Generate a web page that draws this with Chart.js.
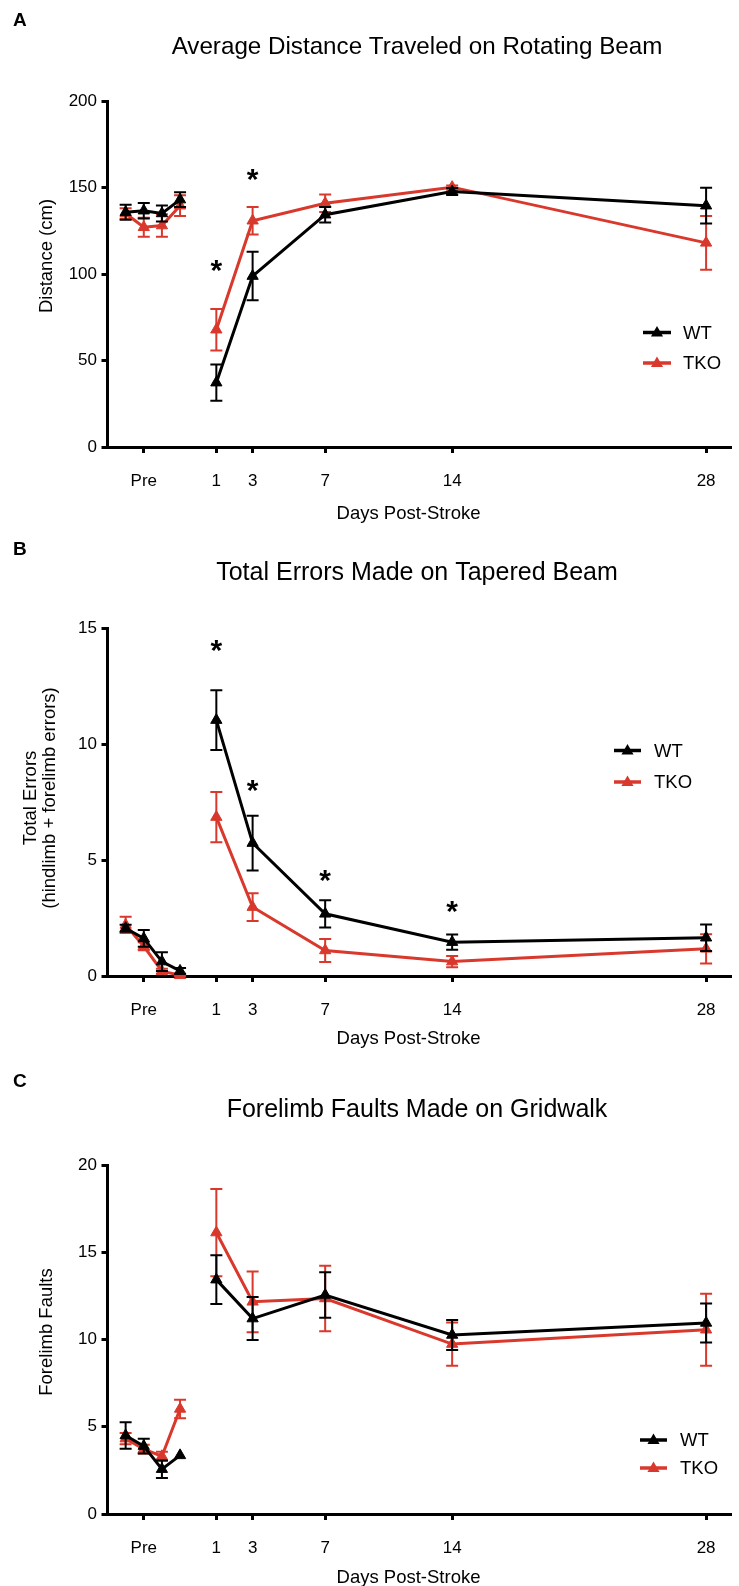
<!DOCTYPE html>
<html><head><meta charset="utf-8">
<script src="https://cdn.jsdelivr.net/npm/chart.js@4/dist/chart.umd.min.js"></script>
<style>
html,body{margin:0;padding:0;background:#fff;}
#wrap{position:relative;width:739px;height:1586px;overflow:hidden;}
canvas{position:absolute;left:0;display:block;}
</style></head><body>
<div id="wrap">
<canvas id="cA" width="739" height="530" style="top:0px"></canvas>
<canvas id="cB" width="739" height="520" style="top:530px"></canvas>
<canvas id="cC" width="739" height="536" style="top:1050px"></canvas>
</div>
<script>
// ---------- shared categories ----------
const xPositions = [-4, -3, -2, -1, 1, 3, 7, 14, 28];
const xTickValues = [-3, 1, 3, 7, 14, 28];
const xTickLabels = ['Pre', '1', '3', '7', '14', '28'];
const seriesNames = ['WT', 'TKO'];

// ---------- A: Average distance on rotating beam ----------
const distanceWT     = [135.7, 136.6, 135.0, 143.0, 37.2, 98.8, 134.3, 147.7, 139.5];
const distanceWTsem  = [4.4, 4.5, 4.6, 4.2, 10.5, 14.0, 4.5, 2.0, 10.3];
const distanceTKO    = [135.0, 127.0, 128.0, 139.5, 67.8, 130.8, 140.9, 150.2, 118.0];
const distanceTKOsem = [3.0, 5.5, 6.5, 6.0, 12.0, 8.0, 5.0, 1.0, 15.5];
const distanceStarDays = [1, 3];
const distanceStarLevel = [104.6, 157.0];
const distanceTicks = [0, 50, 100, 150, 200];

// ---------- B: Total errors on tapered beam ----------
const errorsWT     = [2.06, 1.62, 0.62, 0.22, 11.03, 5.73, 2.68, 1.46, 1.65];
const errorsWTsem  = [0.15, 0.36, 0.40, 0.12, 1.29, 1.18, 0.59, 0.33, 0.57];
const errorsTKO    = [2.20, 1.28, 0.21, 0.03, 6.85, 2.97, 1.10, 0.62, 1.17];
const errorsTKOsem = [0.35, 0.17, 0.10, 0.03, 1.08, 0.60, 0.50, 0.24, 0.63];
const errorsStarDays = [1, 3, 7, 14];
const errorsStarLevel = [14.23, 8.21, 4.30, 2.98];
const errorsTicks = [0, 5, 10, 15];

// ---------- C: Forelimb faults on gridwalk ----------
const faultsWT     = [4.50, 3.89, 2.57, 3.36, 13.43, 11.20, 12.55, 10.26, 10.95];
const faultsWTsem  = [0.76, 0.42, 0.50, 0, 1.40, 1.23, 1.30, 0.86, 1.12];
const faultsTKO    = [4.32, 3.72, 3.31, 6.02, 16.13, 12.16, 12.35, 9.74, 10.56];
const faultsTKOsem = [0.32, 0.25, 0.26, 0.53, 2.50, 1.74, 1.88, 1.24, 2.06];
const faultsStarDays = [];
const faultsStarLevel = [];
const faultsTicks = [0, 5, 10, 15, 20];

// ---------- styling ----------
const FONT = "'Liberation Sans', Arial, Helvetica, sans-serif";
const BLACK = '#000000';
const RED = '#D9382C';
const colors = [BLACK, RED];

function toPoints(vals, sems) {
  const pts = [];
  xPositions.forEach((x, i) => {
    if (i > 0 && xPositions[i - 1] < 0 && x > 0) pts.push({ x: 0, y: null, e: 0 }); // break between Pre and post-stroke
    pts.push({ x: x, y: vals[i], e: sems[i] });
  });
  return pts;
}

function tri(ctx, x, y, r, color) {
  ctx.beginPath();
  ctx.moveTo(x, y - r);
  ctx.lineTo(x + r * Math.cos(Math.PI / 6), y + r / 2);
  ctx.lineTo(x - r * Math.cos(Math.PI / 6), y + r / 2);
  ctx.closePath();
  ctx.fillStyle = color;
  ctx.fill();
}

const errorBarPlugin = {
  id: 'errbars',
  afterDatasetDraw(chart, args) {
    const ctx = chart.ctx;
    const ds = chart.data.datasets[args.index];
    const yS = chart.scales.y;
    ctx.save();
    ctx.strokeStyle = ds.borderColor;
    ctx.lineWidth = 2;
    args.meta.data.forEach((el, j) => {
      const d = ds.data[j];
      if (d.y == null || !d.e) return;
      const x = el.x;
      const y1 = yS.getPixelForValue(d.y + d.e);
      const y2 = yS.getPixelForValue(d.y - d.e);
      ctx.beginPath();
      ctx.moveTo(x, y1); ctx.lineTo(x, y2);
      ctx.moveTo(x - 6, y1); ctx.lineTo(x + 6, y1);
      ctx.moveTo(x - 6, y2); ctx.lineTo(x + 6, y2);
      ctx.stroke();
    });
    ctx.restore();
  }
};

const textPlugin = {
  id: 'texts',
  afterDraw(chart, args, o) {
    const ctx = chart.ctx;
    ctx.save();
    ctx.fillStyle = '#000';
    // panel letter
    ctx.font = 'bold 19px ' + FONT;
    ctx.textAlign = 'left'; ctx.textBaseline = 'alphabetic';
    ctx.fillText(o.letter, 13, o.letterY);
    // title
    ctx.font = o.titleSize + 'px ' + FONT;
    ctx.textAlign = 'center'; ctx.textBaseline = 'middle';
    ctx.fillText(o.title, 417, o.titleY);
    // x title
    ctx.font = '18.5px ' + FONT;
    ctx.fillText('Days Post-Stroke', 408.5, o.xTitleY);
    // y title (rotated)
    o.yTitle.forEach((line, k) => {
      ctx.save();
      ctx.translate(o.yTitleX[k], o.yTitleY);
      ctx.rotate(-Math.PI / 2);
      ctx.fillText(line, 0, 0);
      ctx.restore();
    });
    // legend
    seriesNames.forEach((name, k) => {
      const y = o.legY[k];
      ctx.strokeStyle = colors[k];
      ctx.lineWidth = 3.5;
      ctx.beginPath(); ctx.moveTo(o.legX1, y); ctx.lineTo(o.legX2, y); ctx.stroke();
      tri(ctx, (o.legX1 + o.legX2) / 2, y + 0.5, 7, colors[k]);
      ctx.fillStyle = '#000';
      ctx.font = '18.5px ' + FONT;
      ctx.textAlign = 'left'; ctx.textBaseline = 'middle';
      ctx.fillText(name, o.legText, y + 1);
    });
    // significance asterisks
    ctx.font = 'bold 30px ' + FONT;
    ctx.textAlign = 'center'; ctx.textBaseline = 'alphabetic';
    const m = ctx.measureText('*');
    const off = (m.actualBoundingBoxAscent - m.actualBoundingBoxDescent) / 2;
    o.starDays.forEach((d, k) => {
      const px = chart.scales.x.getPixelForValue(d);
      const py = chart.scales.y.getPixelForValue(o.starLevel[k]);
      ctx.fillText('*', px, py + off);
    });
    ctx.restore();
  }
};

function makeChart(id, p) {
  const canvas = document.getElementById(id);
  const H = canvas.height;
  const tickFont = { family: FONT, size: 17 };
  const gridOpts = { display: true, drawOnChartArea: false, drawTicks: true, tickLength: 6, tickWidth: 3, tickColor: '#000' };
  const borderOpts = { display: true, color: '#000', width: 3 };
  const datasets = [p.wt, p.tko].map((s, k) => ({
    label: seriesNames[k],
    data: toPoints(s[0], s[1]),
    borderColor: colors[k],
    backgroundColor: colors[k],
    borderWidth: 3,
    pointStyle: 'triangle',
    pointRadius: 6.5,
    pointBackgroundColor: colors[k],
    pointBorderColor: colors[k],
    pointBorderWidth: 1,
    tension: 0,
    spanGaps: false,
    clip: false
  }));
  return new Chart(canvas, {
    type: 'line',
    data: { datasets },
    options: {
      responsive: false,
      animation: false,
      events: [],
      layout: { padding: { top: p.chartTop, left: 0, right: 0, bottom: 0 } },
      scales: {
        x: {
          type: 'linear', min: -5, max: 29.4,
          afterBuildTicks: s => { s.ticks = xTickValues.map(v => ({ value: v })); },
          afterFit: s => { s.height = H - p.chartBottom; },
          ticks: {
            font: tickFont, color: '#000', padding: 18.5, maxRotation: 0, autoSkip: false,
            callback: v => { const i = xTickValues.indexOf(v); return i >= 0 ? xTickLabels[i] : ''; }
          },
          grid: gridOpts, border: borderOpts
        },
        y: {
          min: p.yTicks[0], max: p.yTicks[p.yTicks.length - 1],
          afterBuildTicks: s => { s.ticks = p.yTicks.map(v => ({ value: v })); },
          afterFit: s => { s.width = 107.5; },
          ticks: { font: tickFont, color: '#000', padding: 4.5 },
          grid: gridOpts, border: borderOpts
        }
      },
      plugins: {
        legend: { display: false },
        tooltip: { enabled: false },
        title: { display: false },
        texts: p.texts
      }
    },
    plugins: [errorBarPlugin, textPlugin]
  });
}

makeChart('cA', {
  chartTop: 101, chartBottom: 447,
  yTicks: distanceTicks,
  wt: [distanceWT, distanceWTsem], tko: [distanceTKO, distanceTKOsem],
  texts: {
    letter: 'A', letterY: 26, title: 'Average Distance Traveled on Rotating Beam', titleSize: 24.2, titleY: 47.5,
    xTitleY: 514, yTitle: ['Distance (cm)'], yTitleX: [46.5], yTitleY: 256,
    legX1: 643, legX2: 671, legText: 683, legY: [332.5, 363],
    starDays: distanceStarDays, starLevel: distanceStarLevel
  }
});

makeChart('cB', {
  chartTop: 98, chartBottom: 446,
  yTicks: errorsTicks,
  wt: [errorsWT, errorsWTsem], tko: [errorsTKO, errorsTKOsem],
  texts: {
    letter: 'B', letterY: 25, title: 'Total Errors Made on Tapered Beam', titleSize: 25, titleY: 43.5,
    xTitleY: 509, yTitle: ['Total Errors', '(hindlimb + forelimb errors)'], yTitleX: [31.4, 49.6], yTitleY: 268,
    legX1: 614, legX2: 641, legText: 654, legY: [220.5, 252],
    starDays: errorsStarDays, starLevel: errorsStarLevel
  }
});

makeChart('cC', {
  chartTop: 115, chartBottom: 464,
  yTicks: faultsTicks,
  wt: [faultsWT, faultsWTsem], tko: [faultsTKO, faultsTKOsem],
  texts: {
    letter: 'C', letterY: 37, title: 'Forelimb Faults Made on Gridwalk', titleSize: 25, titleY: 60.5,
    xTitleY: 528, yTitle: ['Forelimb Faults'], yTitleX: [46.5], yTitleY: 282,
    legX1: 640, legX2: 667, legText: 680, legY: [390, 418],
    starDays: faultsStarDays, starLevel: faultsStarLevel
  }
});
</script>
</body></html>
